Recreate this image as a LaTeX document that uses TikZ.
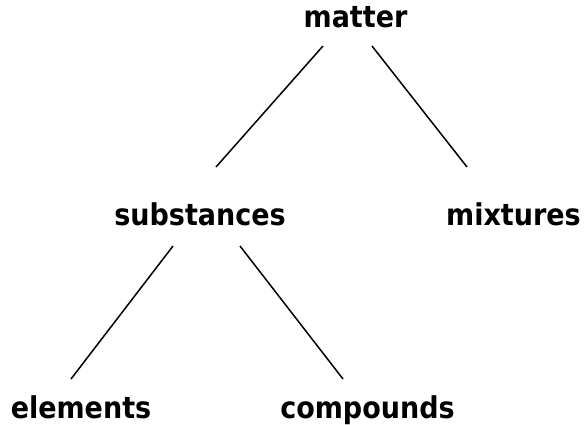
\documentclass[tikz,border=0pt]{standalone}
\usepackage{fontspec}
\setmainfont{DejaVu Sans Condensed}
\usetikzlibrary{calc}
\begin{document}
\begin{tikzpicture}[x=1pt,y=1pt,
  term/.style={inner sep=0pt, anchor=base, font=\fontsize{30}{34}\selectfont\bfseries},
  branch/.style={line width=1.5pt, black}]
\useasboundingbox (0,0) rectangle (585,424);
% classification tree
\node[term] (matter) at (355.5,396) {matter};
\node[term] (subst)  at (200,199)   {substances};
\node[term] (mix)    at (513.5,199) {mixtures};
\node[term] (elem)   at (81,6)      {elements};
\node[term] (comp)   at (367.5,6)   {compounds};
\draw[branch] ($(matter.base)+(-32.5,-18)$) -- ($(subst.base)+(16,58)$);
\draw[branch] ($(matter.base)+(16.5,-18)$)  -- ($(mix.base)+(-46.5,58)$);
\draw[branch] ($(subst.base)+(-27,-21)$)    -- ($(elem.base)+(-10,39)$);
\draw[branch] ($(subst.base)+(40,-21)$)     -- ($(comp.base)+(-24.5,39)$);
\end{tikzpicture}
\end{document}
